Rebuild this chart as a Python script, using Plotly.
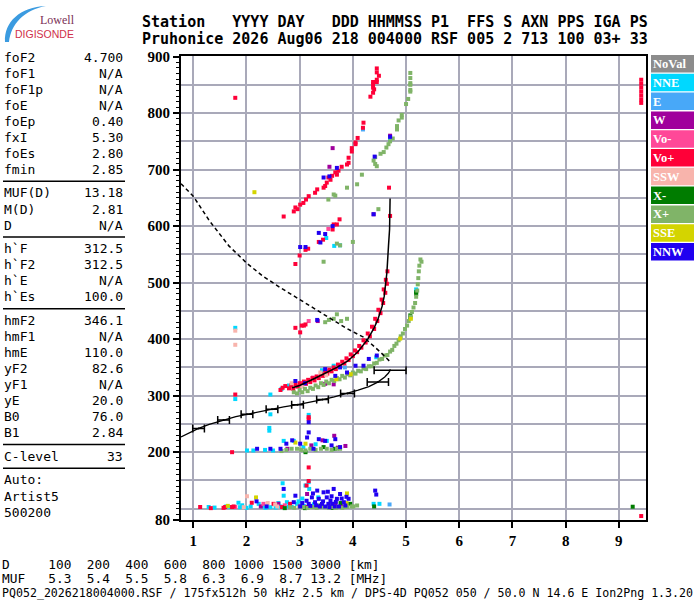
import plotly.graph_objects as go

# ---------------- data: frequency [MHz], virtual height [km] ----------------
categories = ["NoVal", "NNE", "E", "W", "Vo-", "Vo+", "SSW", "X-", "X+", "SSE", "NNW"]
category_colors = ["#8c8c8c", "#00d8ff", "#48a8f8", "#a0009c", "#ff4898", "#ff0038",
                   "#f8b4ac", "#007c00", "#80b468", "#d4d400", "#2000f0"]

noval = []

nne = [(1.29, 103), (1.40, 102), (1.62, 104), (1.85, 110.5), (1.88, 102.7), (2.0, 101.5),
       (2.23, 108.6), (2.30, 104), (2.45, 102.7), (2.55, 102), (2.64, 104), (2.68, 145),
       (2.70, 123), (2.76, 111.5), (2.85, 103), (2.95, 108.6), (3.05, 118), (3.11, 141),
       (3.17, 147), (3.18, 135), (3.35, 120), (4.39, 108.6), (4.50, 108.6),
       (1.70, 103), (1.92, 106), (2.08, 104), (2.36, 101.5), (2.60, 110), (2.79, 104),
       (2.98, 113), (3.08, 105), (3.27, 108),
       (2.01, 203), (2.13, 203), (2.35, 204), (2.50, 203), (2.70, 220), (2.89, 220),
       (3.07, 209), (3.51, 220), (3.30, 214),
       (2.45, 267), (2.43, 243), (2.43, 238), (2.45, 302), (1.79, 294), (1.79, 420),
       (3.17, 266), (2.66, 312), (2.80, 318), (3.42, 345), (3.64, 353), (4.44, 368),
       (5.19, 488), (3.50, 579), (3.65, 565), (3.76, 566), (3.70, 693), (4.70, 753)]

e_dir = [(4.69, 107.5), (4.19, 771), (3.85, 350)]

w_dir = [(2.27, 104), (2.60, 108.6), (3.14, 126), (3.67, 108.6), (3.80, 104), (2.77, 206),
         (3.22, 212), (3.43, 221), (3.65, 229), (3.72, 208), (3.86, 211), (3.34, 432),
         (3.64, 320), (3.48, 321), (4.39, 621), (3.62, 738), (3.56, 705), (4.70, 760)]

vo_minus = [(1.79, 103), (2.32, 108.6), (2.72, 106), (3.00, 104), (3.17, 432), (3.54, 344),
            (3.54, 595), (3.02, 322), (3.25, 332)]

vo_plus = [
    # F2 first hop
    (2.80, 313), (2.84, 318), (2.88, 312), (2.92, 320), (2.96, 316), (3.00, 322), (3.04, 318),
    (3.08, 325), (3.12, 321), (3.16, 328), (3.20, 324), (3.24, 331), (3.28, 327), (3.32, 334),
    (3.36, 331), (3.40, 338), (3.44, 335), (3.48, 342), (3.52, 339), (3.56, 346), (3.60, 343),
    (3.64, 350), (3.68, 347), (3.72, 355), (3.76, 352), (3.80, 360), (3.84, 357), (3.88, 366),
    (3.92, 363), (3.96, 373), (4.00, 370), (4.04, 380), (4.08, 377), (4.12, 388), (4.16, 385),
    (4.20, 398), (4.24, 394), (4.28, 410), (4.32, 405), (4.36, 422), (4.40, 418), (4.42, 436),
    (4.46, 432), (4.48, 452), (4.52, 446), (4.54, 470), (4.57, 464), (4.58, 488), (4.61, 482),
    (4.62, 505), (4.64, 498), (4.65, 520),
    # F2 second hop
    (2.70, 617), (2.89, 626), (2.92, 633), (2.96, 630), (3.01, 638), (3.07, 641), (3.12, 647),
    (3.17, 653), (3.29, 659), (3.33, 665), (3.45, 668), (3.48, 671), (3.51, 677), (3.54, 686),
    (3.58, 682), (3.61, 689), (3.67, 695), (3.70, 691), (3.73, 698), (3.79, 705), (3.89, 709),
    (3.92, 712), (3.92, 721), (3.98, 732), (3.98, 738), (4.05, 745), (4.05, 748), (4.09, 756),
    (4.19, 774), (4.20, 783), (4.33, 829), (4.38, 836), (4.40, 842), (4.38, 845), (4.38, 851),
    (4.38, 855), (4.45, 855), (4.45, 859), (4.49, 866), (4.45, 872), (4.45, 879),
    # sporadic / scattered
    (1.13, 103), (1.33, 101), (1.57, 101.5), (1.60, 103), (1.73, 103), (1.76, 104), (2.10, 110.5),
    (2.51, 108.6), (2.67, 103), (2.82, 108.6), (3.14, 103), (3.13, 141), (3.17, 149), (3.17, 173),
    (1.73, 200), (3.17, 262), (3.17, 259), (1.79, 302), (2.64, 310), (2.68, 314), (2.73, 317),
    (2.92, 420), (3.11, 426), (3.01, 412), (3.04, 424), (3.08, 424),
    (2.92, 533), (3.00, 548), (3.11, 558), (3.16, 560), (3.36, 572), (3.44, 576), (3.62, 594),
    (3.64, 603), (3.70, 603), (3.75, 612), (1.79, 827), (4.68, 668), (4.70, 618),
    (9.42, 87), (9.42, 818), (9.42, 824), (9.42, 831), (9.42, 838), (9.42, 845), (9.42, 852),
    (9.42, 859)]

ssw = [(1.95, 102.7), (2.01, 122), (2.40, 110), (2.54, 107.5), (2.58, 104), (1.79, 390),
       (1.79, 415), (3.39, 341), (3.50, 336), (3.05, 316), (2.85, 322)]

x_minus = [(2.72, 101), (3.10, 101), (3.39, 105.7), (3.60, 101.5), (3.77, 110), (3.95, 108.6),
           (4.40, 104), (3.11, 200), (3.45, 209), (3.66, 206), (5.08, 442), (5.08, 438),
           (5.19, 483), (5.19, 480), (9.26, 103.5)]

x_plus = [
    # F2 first hop
    (2.89, 306), (2.95, 304), (3.00, 310), (3.05, 306), (3.10, 312), (3.15, 308), (3.20, 314),
    (3.25, 312), (3.30, 318), (3.35, 315), (3.40, 322), (3.45, 319), (3.50, 325), (3.55, 322),
    (3.60, 328), (3.65, 326), (3.70, 331), (3.75, 329), (3.80, 335), (3.85, 332), (3.90, 338),
    (3.95, 336), (4.00, 341), (4.05, 339), (4.10, 344), (4.15, 343), (4.20, 348), (4.25, 347),
    (4.30, 352), (4.35, 352), (4.40, 357), (4.45, 358), (4.50, 364), (4.55, 365), (4.60, 371),
    (4.65, 372), (4.70, 378), (4.74, 381), (4.78, 388), (4.82, 392), (4.86, 398), (4.90, 405),
    (4.94, 410), (4.98, 418), (5.02, 424), (5.05, 432), (5.08, 440), (5.11, 448), (5.14, 456),
    (5.17, 464), (5.19, 475), (5.21, 486), (5.22, 497), (5.23, 508), (5.24, 520), (5.25, 530),
    (5.27, 541), (5.29, 537),
    # F2 second hop
    (3.54, 647), (3.64, 656), (3.67, 654), (3.89, 668), (4.08, 674), (4.17, 691), (4.00, 572),
    (4.48, 630), (3.45, 537), (3.70, 569), (3.76, 566),
    (4.39, 716), (4.42, 710), (4.45, 706), (4.42, 722), (4.52, 728), (4.58, 731), (4.63, 739),
    (4.67, 745), (4.70, 750), (4.75, 755), (4.83, 771), (4.83, 777), (4.86, 787), (4.92, 792),
    (4.92, 797), (5.00, 816), (5.04, 825), (5.08, 838), (5.08, 841), (5.08, 850), (5.08, 853),
    (5.08, 862), (5.08, 871),
    # layers near 430 km, 200 km and 100 km
    (3.48, 430), (3.55, 434), (3.64, 436), (3.70, 444), (3.78, 432), (3.89, 436),
    (2.66, 202), (2.75, 204), (2.85, 206), (2.95, 206), (3.03, 204), (3.11, 203), (3.20, 206),
    (3.30, 204), (3.40, 206), (3.51, 206), (3.60, 204), (3.70, 206), (3.76, 206),
    (2.82, 102.7), (2.90, 101.5), (3.00, 103), (3.07, 102.7), (3.15, 101.5), (3.22, 103),
    (3.26, 102.7), (3.32, 101.5), (3.40, 103), (3.48, 102.7), (3.55, 101.5), (3.62, 103),
    (3.68, 101.5), (3.73, 102.7), (3.80, 101.5), (3.86, 103), (3.90, 103), (3.98, 104),
    (4.01, 104), (4.08, 105.7)]

sse = [(1.65, 105), (2.18, 120), (3.89, 127), (3.88, 110), (2.92, 217), (3.11, 215),
       (3.69, 329), (3.96, 338), (4.89, 401), (5.09, 436), (2.15, 660)]

nnw = [(2.19, 113), (2.38, 104), (2.89, 111.5), (2.92, 123), (3.01, 104), (3.17, 108.6),
       (3.20, 105), (3.23, 120), (3.25, 127), (3.29, 111.5), (3.33, 132), (3.36, 117.5),
       (3.38, 104), (3.42, 108.6), (3.45, 129), (3.48, 104), (3.51, 120), (3.54, 108.6),
       (3.56, 102.7), (3.58, 114.5), (3.60, 122), (3.61, 108.6), (3.64, 135), (3.66, 104),
       (3.70, 117.5), (3.74, 104), (3.76, 126), (3.83, 111.5), (3.86, 105.7), (3.92, 117.5),
       (4.42, 132), (4.44, 125), (3.05, 110), (3.13, 114), (3.31, 106), (3.44, 113),
       (3.53, 130), (3.68, 112), (3.79, 118), (3.88, 121),
       (2.20, 206), (2.45, 206), (2.64, 206), (2.75, 215), (2.86, 221), (3.01, 215),
       (3.14, 226), (3.26, 206), (3.36, 223), (3.48, 220), (3.60, 212), (3.67, 223),
       (3.76, 209), (3.17, 235), (3.17, 253), (2.70, 135),
       (2.92, 326), (3.33, 434), (3.48, 347), (3.67, 335), (3.76, 350), (3.89, 341),
       (4.05, 353), (4.20, 353), (4.45, 371), (4.30, 365), (3.10, 322),
       (3.01, 563), (3.11, 563), (3.39, 571), (3.48, 586), (3.62, 600), (4.39, 621),
       (4.41, 723), (3.70, 703), (3.45, 686), (3.56, 688), (4.70, 758), (3.36, 588)]

category_points = [noval, nne, e_dir, w_dir, vo_minus, vo_plus, ssw, x_minus, x_plus, sse, nnw]

# true-height profile with error bars
profile_f = [0.77, 0.90, 1.10, 1.30, 1.57, 1.80, 2.01, 2.25, 2.48, 2.70, 2.96, 3.20, 3.43,
             3.65, 3.90, 4.10, 4.30, 4.47, 4.60, 4.67, 4.70]
profile_h = [227, 233, 242, 249, 257, 263, 267, 272, 276, 280, 284, 288, 293,
             298, 304, 310, 316, 324, 333, 340, 345]
bar_f = [1.10, 1.57, 2.01, 2.48, 2.96, 3.43, 3.90, 4.47, 4.70]
bar_h = [242, 257, 267, 276, 284, 293, 304, 324, 345]
bar_half = [0.11, 0.11, 0.11, 0.11, 0.11, 0.11, 0.13, 0.20, 0.30]

# model O-trace
model_f = [2.86, 3.00, 3.27, 3.50, 3.70, 3.90, 4.10, 4.28, 4.40, 4.47, 4.55, 4.59, 4.64,
           4.67, 4.69, 4.70]
model_h = [314, 318, 330, 340, 350, 361, 378, 400, 420, 435, 458, 476, 518, 565, 594, 649]

# dashed curve
dashed_f = [0.77, 1.00, 1.30, 1.67, 2.00, 2.30, 2.64, 3.00, 3.27, 3.60, 3.90, 4.21, 4.40,
            4.53, 4.69]
dashed_h = [675, 653, 610, 565, 535, 512, 491, 470, 455, 435, 418, 403, 388, 376, 361]

# text panels
header_top = "Station   YYYY DAY   DDD HHMMSS P1  FFS S AXN PPS IGA PS"
header_bottom = "Pruhonice 2026 Aug06 218 004000 RSF 005 2 713 100 03+ 33"

param_groups = [
    [("foF2", "4.700"), ("foF1", "N/A"), ("foF1p", "N/A"), ("foE", "N/A"), ("foEp", "0.40"),
     ("fxI", "5.30"), ("foEs", "2.80"), ("fmin", "2.85")],
    [("MUF(D)", "13.18"), ("M(D)", "2.81"), ("D", "N/A")],
    [("h`F", "312.5"), ("h`F2", "312.5"), ("h`E", "N/A"), ("h`Es", "100.0")],
    [("hmF2", "346.1"), ("hmF1", "N/A"), ("hmE", "110.0"), ("yF2", "82.6"), ("yF1", "N/A"),
     ("yE", "20.0"), ("B0", "76.0"), ("B1", "2.84")],
    [("C-level", "33")],
    [("Auto:", ""), ("Artist5", ""), ("500200", "")],
]

distances = [100, 200, 400, 600, 800, 1000, 1500, 3000]
muf_values = [5.3, 5.4, 5.5, 5.8, 6.3, 6.9, 8.7, 13.2]
footer = ("PQ052_2026218004000.RSF / 175fx512h 50 kHz 2.5 km / DPS-4D PQ052 050 / "
          "50.0 N 14.6 E Ion2Png 1.3.20")

y_label_vals = [80, 200, 300, 400, 500, 600, 700, 800, 900]

# ---------------- figure ----------------
PLOT_L, PLOT_R, PLOT_T, PLOT_B = 181, 646, 56, 520


def px(x):
    return (x - PLOT_L) / (PLOT_R - PLOT_L)


def py(y):
    return (PLOT_B - y) / (PLOT_B - PLOT_T)


def nb(s):
    return s.replace(" ", "\u00a0")


fig = go.Figure()

for name, color, pts in zip(categories, category_colors, category_points):
    fig.add_trace(go.Scatter(x=[p[0] for p in pts], y=[p[1] for p in pts], mode="markers",
                             name=name, marker=dict(symbol="square", size=4, color=color,
                                                    line=dict(width=0))))

fig.add_trace(go.Scatter(x=dashed_f, y=dashed_h, mode="lines", yaxis="y2",
                         line=dict(color="black", width=1.5, dash="4px,3px")))
fig.add_trace(go.Scatter(x=model_f, y=model_h, mode="lines",
                         line=dict(color="black", width=1.5)))
fig.add_trace(go.Scatter(x=profile_f, y=profile_h, mode="lines",
                         line=dict(color="black", width=1.3)))
fig.add_trace(go.Scatter(x=bar_f, y=bar_h, mode="markers",
                         marker=dict(size=2, color="black"),
                         error_x=dict(type="data", array=bar_half, color="black",
                                      thickness=1.5, width=4)))

mono = "DejaVu Sans Mono"
serif_bold = dict(family="Liberation Serif", size=15, color="black", weight="bold")
annotations = []
shapes = []

# header
for text, y in [(header_top, 22), (header_bottom, 39)]:
    annotations.append(dict(x=px(140), y=py(y), text=nb(text), xanchor="left", yanchor="middle",
                            font=dict(family=mono, size=15, color="black", weight="bold")))

# logo
annotations.append(dict(x=px(57), y=py(20), text="Lowell", xanchor="center", yanchor="middle",
                        font=dict(family="Liberation Serif", size=12, color="#7a2f55")))
annotations.append(dict(x=px(44), y=py(34), text="DIGISONDE", xanchor="center", yanchor="middle",
                        font=dict(family="Liberation Sans", size=10.5, color="#d0304a")))
arc = [(5, 42), (4, 22), (20, 7), (46, 6), (24, 10), (11, 24), (9, 42)]
shapes.append(dict(type="path", xref="paper", yref="paper", line=dict(width=0),
                   fillcolor="#3b9be0",
                   path="M {},{} C {},{} {},{} {},{} C {},{} {},{} {},{} Z".format(
                       *[v for a, b in arc for v in (px(a), py(b))])))

# left parameter panel
y = 57
for gi, group in enumerate(param_groups):
    for label, value in group:
        annotations.append(dict(x=px(2), y=py(y), text=nb(label), xanchor="left",
                                yanchor="middle", font=dict(family=mono, size=13, color="black")))
        if value:
            annotations.append(dict(x=px(125), y=py(y), text=value, xanchor="right",
                                    yanchor="middle",
                                    font=dict(family=mono, size=13, color="black")))
        y += 16.06
    if gi < len(param_groups) - 1:
        line_y = y - 16.06 + 11.8
        shapes.append(dict(type="line", xref="paper", yref="paper", x0=px(3), x1=px(125),
                           y0=py(line_y), y1=py(line_y), line=dict(color="black", width=1.5)))
        y += 7.5

# colour legend boxes
for i, (name, color) in enumerate(zip(categories, category_colors)):
    top = 55 + i * 18.8
    shapes.append(dict(type="rect", xref="paper", yref="paper", x0=px(651), x1=px(694),
                       y0=py(top), y1=py(top + 17.5), fillcolor=color, line=dict(width=0)))
    annotations.append(dict(x=px(651), y=py(top + 9), text=name, xanchor="left",
                            yanchor="middle",
                            font=dict(family="Liberation Serif", size=12.5, color="white",
                                      weight="bold")))

# distance / MUF rows and footer
d_row = f"{'D':<4}" + "".join(f"{d:>5}" for d in distances) + " [km]"
m_row = f"{'MUF':<4}" + "".join(f"{m:>5}" for m in muf_values) + " [MHz]"
for text, y in [(d_row, 564), (m_row, 578)]:
    annotations.append(dict(x=px(0), y=py(y), text=nb(text), xanchor="left", yanchor="middle",
                            font=dict(family=mono, size=12.8, color="black")))
annotations.append(dict(x=px(0), y=py(593), text=nb(footer), xanchor="left", yanchor="middle",
                        font=dict(family=mono, size=11.6, color="black")))

for a in annotations:
    a.update(xref="paper", yref="paper", showarrow=False)

grid = dict(showgrid=True, gridcolor="#a9a9b9", gridwidth=1.5, zeroline=False)
fig.update_layout(
    width=700, height=600,
    margin=dict(l=PLOT_L, r=700 - PLOT_R, t=PLOT_T, b=600 - PLOT_B),
    paper_bgcolor="white", plot_bgcolor="white",
    showlegend=False,
    xaxis=dict(range=[0.77, 9.51], tickvals=list(range(1, 10)), ticks="outside", ticklen=6,
               tickwidth=1.5, tickcolor="black", showline=True, linecolor="black",
               linewidth=2, mirror=True, tickfont=serif_bold, **grid),
    yaxis=dict(range=[80, 901], tickvals=list(range(100, 901, 50)), showticklabels=False,
               ticks="", showline=True, linecolor="black", linewidth=2, mirror=True, **grid),
    yaxis2=dict(range=[80, 901], overlaying="y", side="left", tickvals=y_label_vals,
                ticktext=[str(v) for v in y_label_vals], ticks="outside", ticklen=7,
                tickwidth=1.5, tickcolor="black", showgrid=False, zeroline=False,
                showline=False, tickfont=serif_bold,
                minor=dict(tickmode="linear", tick0=0, dtick=10, ticks="outside", ticklen=4,
                           tickcolor="black", tickwidth=1, showgrid=False)),
    annotations=annotations,
    shapes=shapes,
)

# page body has a default 8px margin; remove it so the figure sits at the window corner
fig.write_html("out.html", config={"displayModeBar": False},
               post_script="document.body.style.margin='0';")
